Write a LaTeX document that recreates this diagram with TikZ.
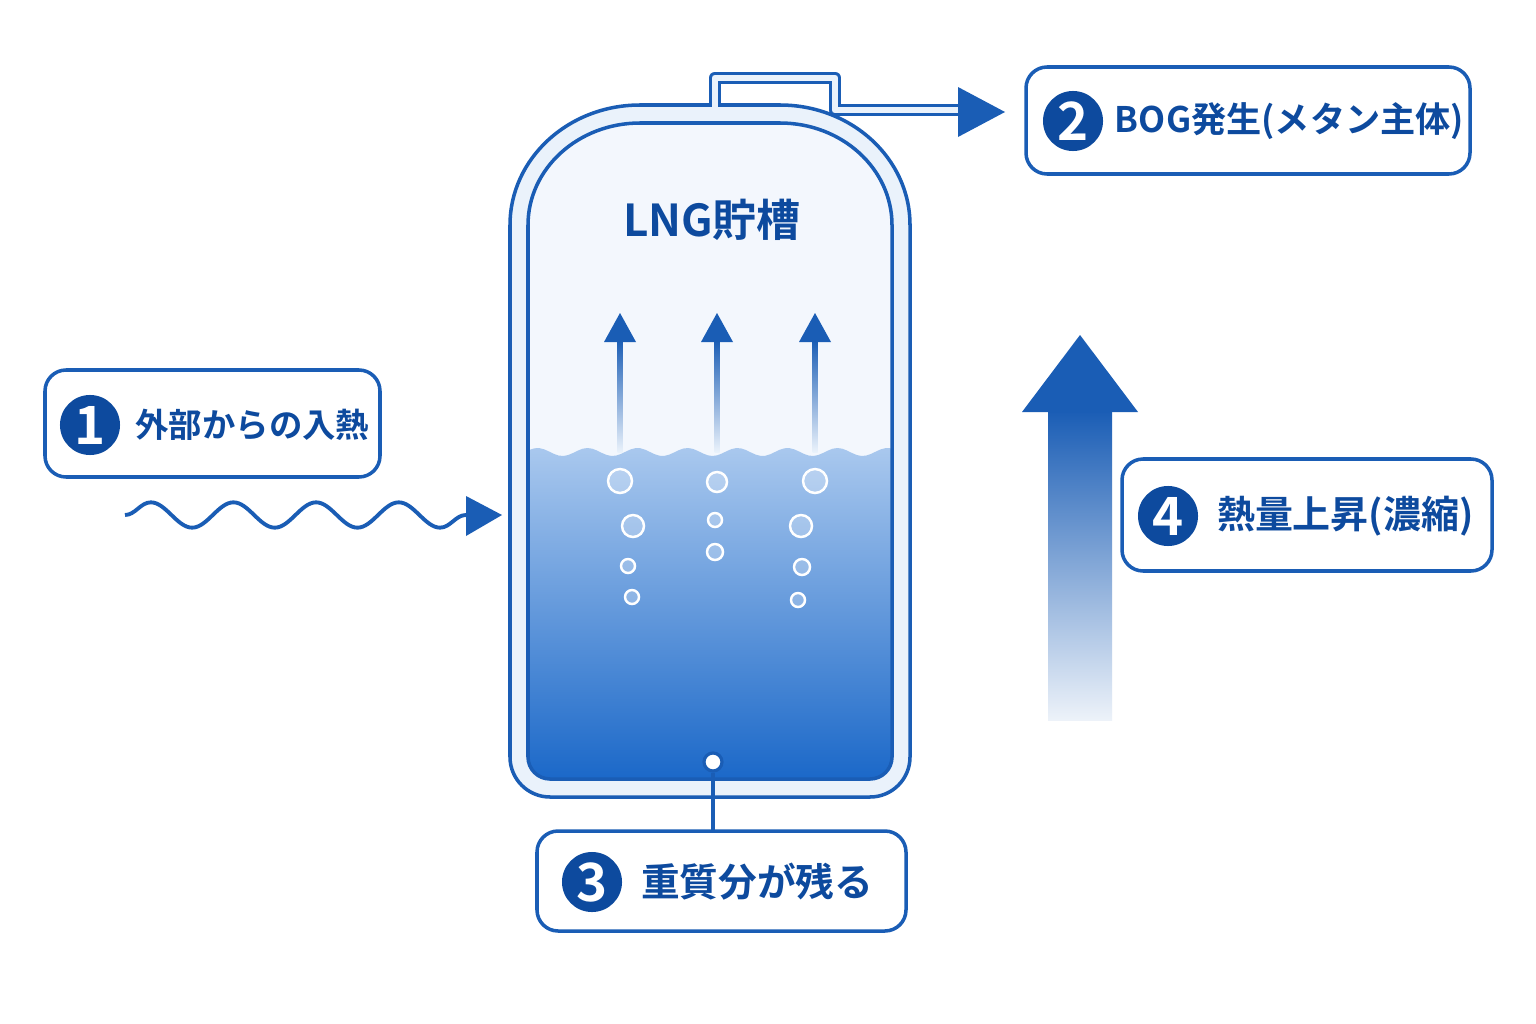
\documentclass[tikz,border=0pt]{standalone}
\usepackage{fontspec}
\setmainfont{Noto Sans CJK JP}[BoldFont={Noto Sans CJK JP Bold}]
\usetikzlibrary{positioning,calc,decorations.pathmorphing}
\definecolor{navy}{HTML}{0D4A9E}
\definecolor{lineblue}{HTML}{1A5DB5}
\definecolor{pale}{HTML}{EAF2FB}
\definecolor{liqtop}{HTML}{A9C8EE}
\definecolor{liqbot}{HTML}{1262C6}
\tikzset{
  label box/.style={draw=lineblue,line width=1pt,rounded corners=6pt,fill=white},
  num/.style={circle,fill=navy,text=white,minimum size=0.6cm,inner sep=0pt,font=\fontsize{15}{15}\selectfont\bfseries},
  box text/.style={text=navy,font=\fontsize{#1}{11}\selectfont\bfseries,anchor=west,inner sep=0pt},
  box text/.default=9.5,
  bubble/.style={draw=white,line width=0.7pt,fill=white,fill opacity=0.25}
}
\begin{document}
\begin{tikzpicture}[x=0.01cm,y=-0.01cm]
  \useasboundingbox[fill=white] (0,0) rectangle (1536,1024);

  % tank body
  \draw[lineblue,line width=1pt,fill=pale] (510,757) -- (510,225)
    arc[start angle=180,end angle=270,x radius=130,y radius=120] -- (780,105)
    arc[start angle=270,end angle=360,x radius=130,y radius=120] -- (910,757)
    arc[start angle=0,end angle=90,radius=40] -- (550,797)
    arc[start angle=90,end angle=180,radius=40] -- cycle;
  \begin{scope}
    \clip (528,757) -- (528,225)
      arc[start angle=180,end angle=270,x radius=112,y radius=102] -- (780,123)
      arc[start angle=270,end angle=360,x radius=112,y radius=102] -- (892,757)
      arc[start angle=0,end angle=90,radius=22] -- (550,779)
      arc[start angle=90,end angle=180,radius=22] -- cycle;
    \fill[pale!60!white] (500,100) rectangle (920,800);
    \shade[top color=liqtop,bottom color=liqbot]
      plot[domain=520:900,samples=80] (\x,{452+4*sin(7.2*\x)}) -- (900,800) -- (520,800) -- cycle;
  \end{scope}
  \draw[lineblue,line width=1pt] (528,757) -- (528,225)
    arc[start angle=180,end angle=270,x radius=112,y radius=102] -- (780,123)
    arc[start angle=270,end angle=360,x radius=112,y radius=102] -- (892,757)
    arc[start angle=0,end angle=90,radius=22] -- (550,779)
    arc[start angle=90,end angle=180,radius=22] -- cycle;
  \node[text=navy,font=\fontsize{12.5}{13}\selectfont\bfseries] (tank) at (712,220) {LNG貯槽};

  % rising vapour
  \foreach \x in {620,717,815}{
    \shade[top color=lineblue,bottom color=pale] (\x-2.5,340) rectangle (\x+2.5,452);
    \fill[lineblue] (\x-16,342) -- (\x,313) -- (\x+16,342) -- cycle;
  }
  % bubbles
  \foreach \x/\y/\r in {620/481/12,633/526/11,628/566/7,632/597/7,717/482/10,715/520/7,715/552/8,815/481/12,801/526/11,802/567/8,798/600/7}
    \draw[bubble] (\x,\y) circle (\r);

  % vent pipe
  \coordinate (vent) at (715,106);
  \coordinate (vent end) at (1005,112);
  \draw[lineblue,line width=3.6pt,line join=round] (vent) -- (715,78) -- (835,78) -- (835,110) -- (960,110);
  \draw[pale,line width=1.9pt,line join=round] ($(vent)+(0,3)$) -- (715,78) -- (835,78) -- (835,110) -- (962,110);
  \fill[lineblue] (958,87) -- (vent end) -- (958,137) -- cycle;

  % boxes
  \draw[label box] (45,370) rectangle (380,477);
  \node[num] (n1) at (90,425) {1};
  \node[box text,right=4pt of n1] (t1) {外部からの入熱};

  \draw[label box] (1026,67) rectangle (1470,174);
  \node[num] (n2) at (1073,121) {2};
  \node[box text=10,right=3pt of n2] (t2) {BOG発生(メタン主体)};

  \draw[label box] (537,831) rectangle (906,931);
  \node[num] (n3) at (592,882) {3};
  \node[box text=11,right=5pt of n3] (t3) {重質分が残る};

  \draw[label box] (1122,459) rectangle (1492,571);
  \node[num] (n4) at (1168,516) {4};
  \node[box text=10.8,right=5pt of n4] (t4) {熱量上昇(濃縮)};

  % heat input
  \coordinate (heat start) at (125,515);
  \coordinate (heat tip) at (502,515);
  \draw[lineblue,line width=1.1pt,decorate,decoration={snake,amplitude=3.6pt,segment length=23.5pt}]
    (heat start) -- (468,515);
  \fill[lineblue] (466,496) -- (heat tip) -- (466,536) -- cycle;

  % heavy residue
  \node[draw=lineblue,line width=0.9pt,fill=white,circle,minimum size=0.18cm,inner sep=0pt] (drain) at (713,762) {};
  \draw[lineblue,line width=0.9pt] (drain) -- (713,831);

  % calorific rise arrow
  \shade[top color=lineblue,bottom color=lineblue!8] (1048,410) rectangle (1112,720);
  \fill[lineblue] (1022,412) -- (1080,335) -- (1138,412) -- cycle;
\end{tikzpicture}
\end{document}
